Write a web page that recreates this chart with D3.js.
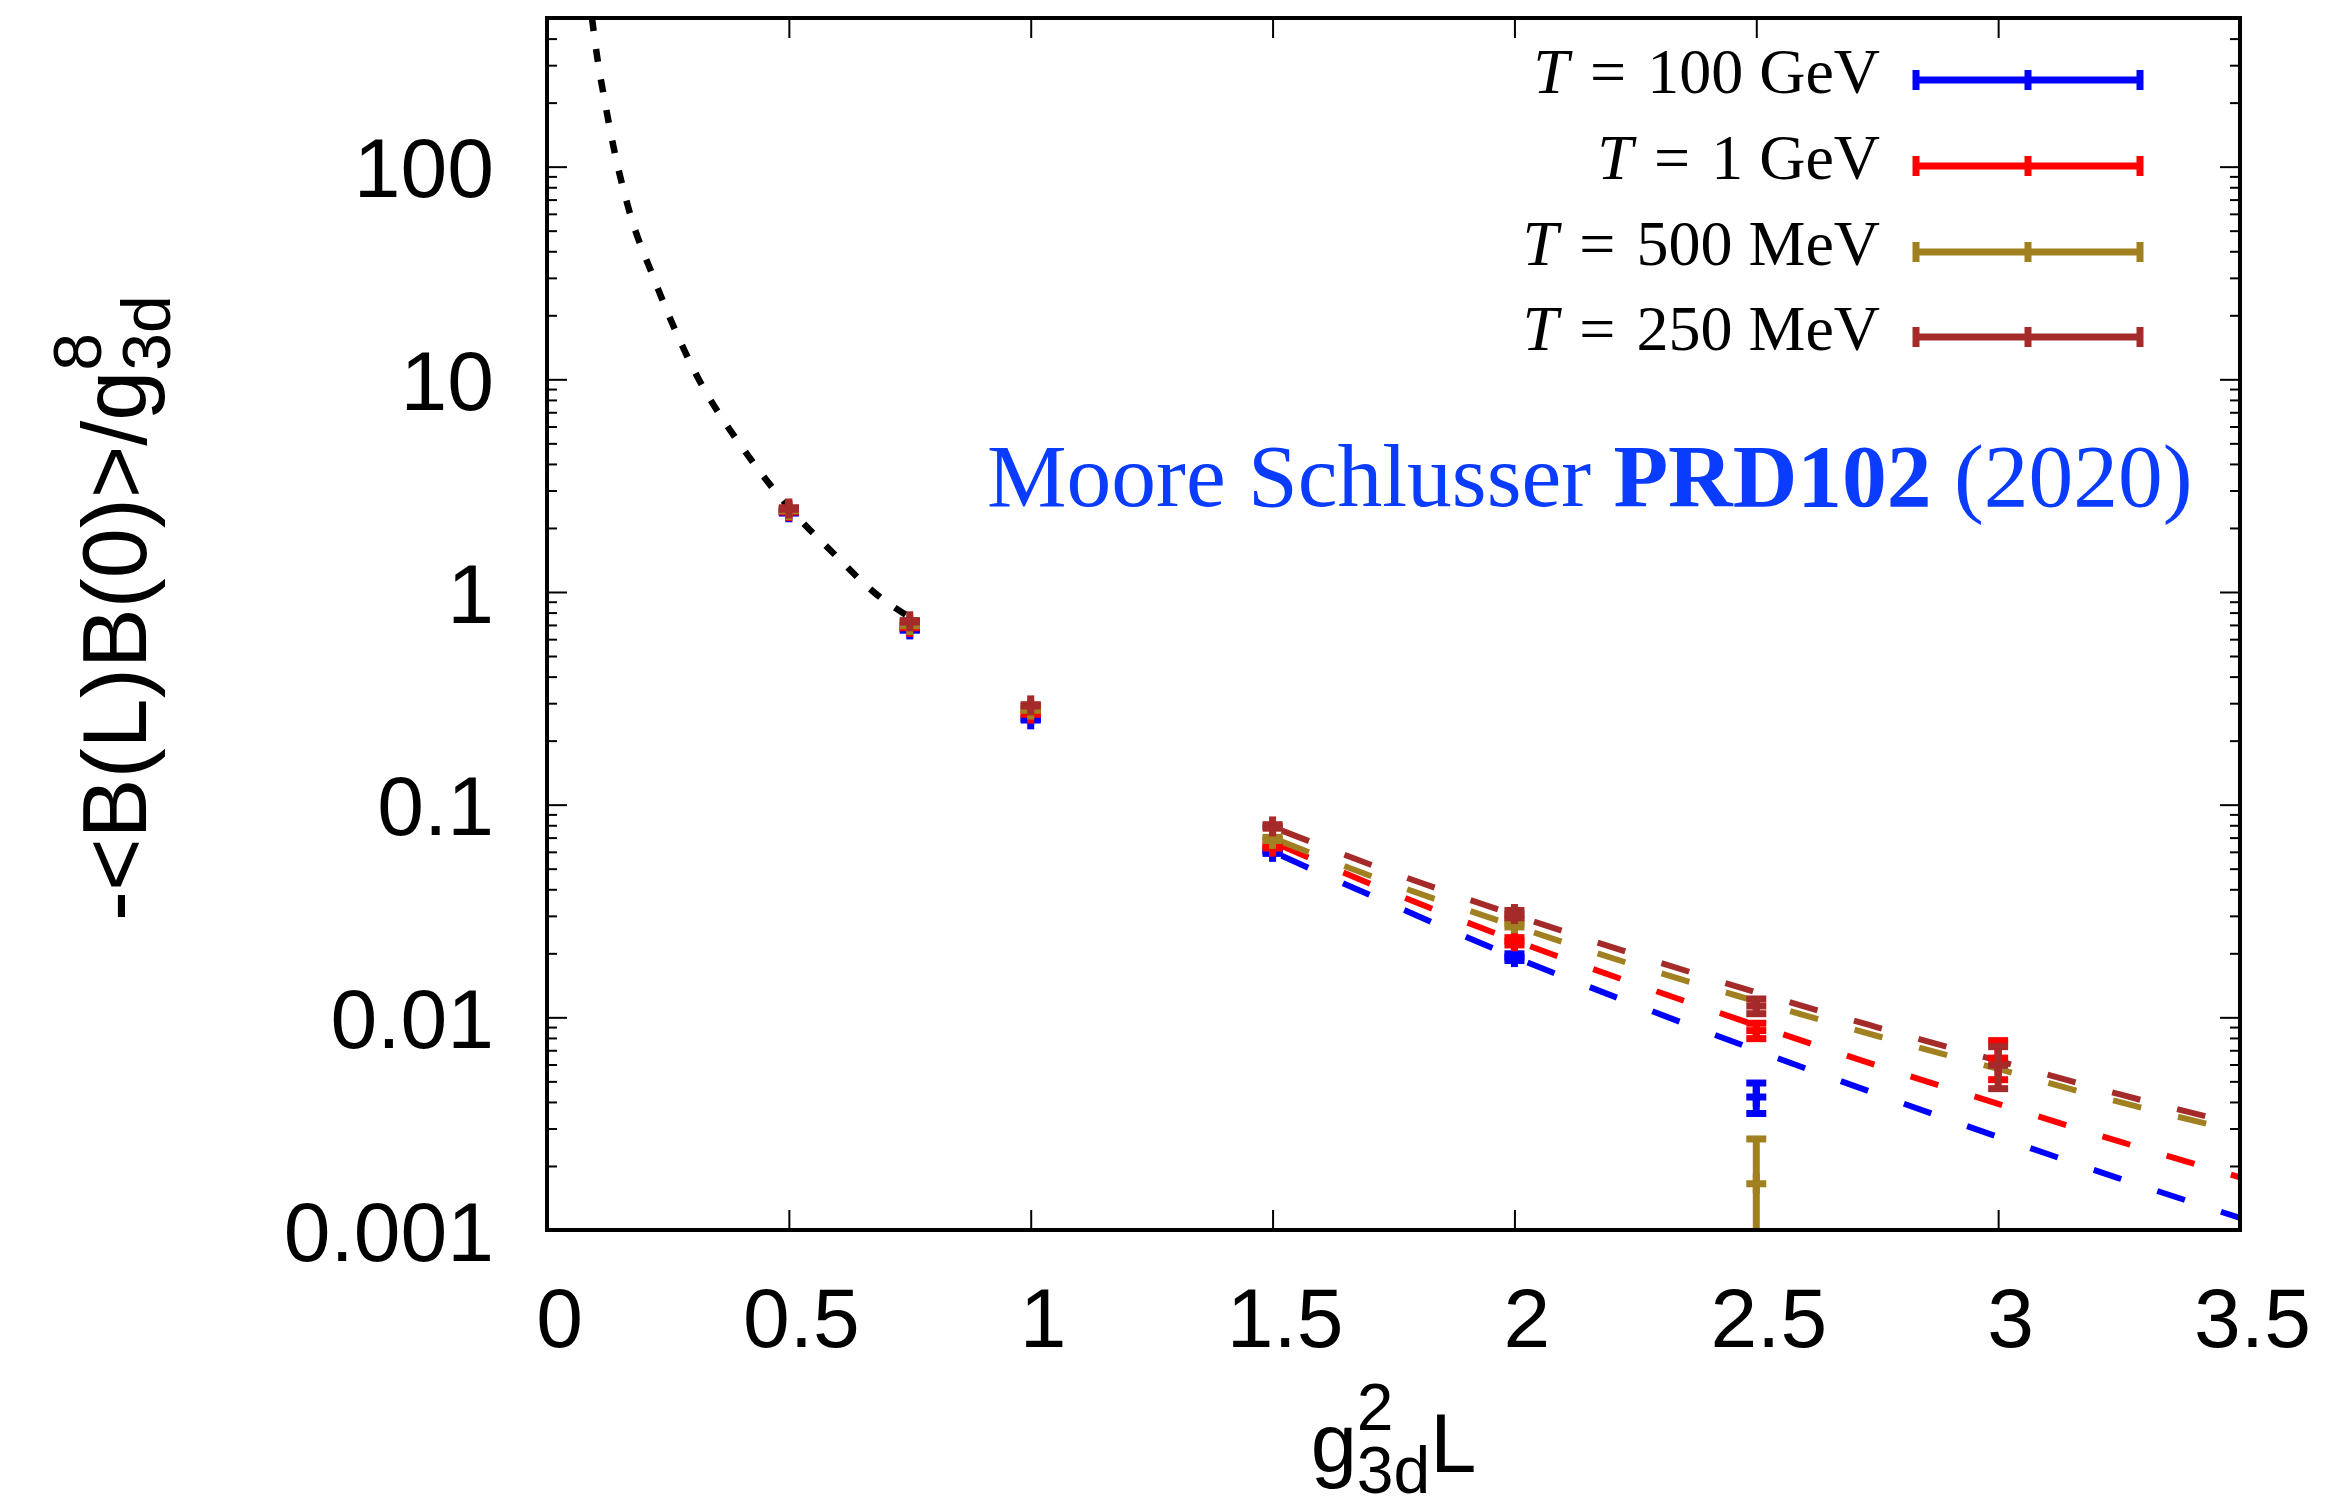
<!DOCTYPE html>
<html><head><meta charset="utf-8">
<script src="https://cdn.jsdelivr.net/npm/d3@7"></script>
<style>body{margin:0;background:#fff;overflow:hidden}</style>
</head><body>
<svg id="chart" width="2326" height="1501"></svg>
<script>
// ---------------- data ----------------
const xValues = [0.5, 0.75, 1.0, 1.5, 2.0, 2.5, 3.0];

const seriesLabels = ["100 GeV", "1 GeV", "500 MeV", "250 MeV"];
const seriesColors = ["#0000ff", "#ff0000", "#a08020", "#a52a2a"];

const blueY  = [2.37, 0.667, 0.252, 0.0600, 0.0192, 0.00422, null];
const redY   = [2.40, 0.685, 0.268, 0.0635, 0.0228, 0.00866, 0.00643];
const goldY  = [2.43, 0.700, 0.280, 0.0690, 0.0277, 0.00165, null];
const brownY = [2.47, 0.728, 0.293, 0.0790, 0.0306, 0.0113, 0.00595];

const blueErr  = [0.02, 0.006, 0.002, 0.0010, 0.0007, 0.00069, null];
const redErr   = [0.02, 0.006, 0.002, 0.0010, 0.0009, 0.00072, 0.00134];
const goldErr  = [0.02, 0.006, 0.002, 0.0012, 0.0011, 0.00103, null];
const brownErr = [0.02, 0.006, 0.002, 0.0015, 0.0012, 0.00090, 0.00133];

// fitted (dashed) curves, values read at these L
const fitX     = [1.5, 1.75, 2.0, 2.25, 2.5, 2.75, 3.0, 3.25, 3.5];
const blueFit  = [0.0601, 0.0336, 0.0192, 0.01146, 0.0070, 0.00435, 0.00274, 0.00175, 0.00114];
const redFit   = [0.0668, 0.0383, 0.0230, 0.01436, 0.00917, 0.00593, 0.00392, 0.00261, 0.00177];
const goldFit  = [0.0697, 0.0422, 0.0269, 0.01754, 0.01189, 0.00817, 0.00572, 0.0040, 0.0029];
const brownFit = [0.0785, 0.0477, 0.0303, 0.0197, 0.0131, 0.00898, 0.00624, 0.00435, 0.00313];

// black dotted perturbative curve
const pertX = [0.093, 0.1033, 0.12, 0.1405, 0.17, 0.221, 0.3, 0.415, 0.5, 0.591, 0.68, 0.75];
const pertY = [500, 333, 200, 115, 62, 29.8, 11.5, 4.4, 2.5, 1.53, 0.98, 0.76];

const xTicks = [0, 0.5, 1, 1.5, 2, 2.5, 3, 3.5];
const xTickLabels = ["0", "0.5", "1", "1.5", "2", "2.5", "3", "3.5"];
const yTicks = [0.001, 0.01, 0.1, 1, 10, 100];
const yTickLabels = ["0.001", "0.01", "0.1", "1", "10", "100"];

const annotation = ["Moore Schlusser ", "PRD102", " (2020)"];

// ---------------- setup ----------------
const M = {left: 547, right: 2240, top: 18, bottom: 1230};
const SANS = "'Liberation Sans', Arial, Helvetica, sans-serif";
const SERIF = "'Liberation Serif', 'Times New Roman', serif";
const svg = d3.select("#chart");

const x = d3.scaleLinear().domain([0, 3.5]).range([M.left, M.right]);
const y = d3.scaleLog().domain([0.001, 500]).range([M.bottom, M.top]);

svg.append("rect").attr("width", 2326).attr("height", 1501).attr("fill", "#fff");
svg.append("defs").append("clipPath").attr("id", "clip")
  .append("rect").attr("x", M.left).attr("y", M.top)
  .attr("width", M.right - M.left).attr("height", M.bottom - M.top);

const series = [
  {vals: blueY, errs: blueErr, fit: blueFit},
  {vals: redY, errs: redErr, fit: redFit},
  {vals: goldY, errs: goldErr, fit: goldFit},
  {vals: brownY, errs: brownErr, fit: brownFit}
].map((s, i) => Object.assign(s, {color: seriesColors[i], label: seriesLabels[i]}));

// ---------------- axes ----------------
const minor = [];
for (let e = -3; e <= 2; e++) for (let k = 2; k <= 9; k++) {
  const v = k * Math.pow(10, e);
  if (v <= 500) minor.push(v);
}
function styleAxis(g) {
  g.select(".domain").remove();
  g.selectAll(".tick line").attr("stroke", "#000").attr("stroke-width", 2);
}
const TICKFONT = 84;
// left major with labels
svg.append("g").attr("transform", `translate(${M.left},0)`)
  .call(d3.axisLeft(y).tickValues(yTicks).tickSize(-20).tickPadding(53)
        .tickFormat((d, i) => yTickLabels[i]))
  .call(styleAxis)
  .call(g => g.selectAll("text").attr("font-family", SANS).attr("font-size", TICKFONT)
        .attr("fill", "#000").attr("dy", "0.36em"));
svg.append("g").attr("transform", `translate(${M.left},0)`)
  .call(d3.axisLeft(y).tickValues(minor).tickSize(-10).tickFormat(""))
  .call(styleAxis);
// right mirror
svg.append("g").attr("transform", `translate(${M.right},0)`)
  .call(d3.axisRight(y).tickValues(yTicks).tickSize(-20).tickFormat(""))
  .call(styleAxis);
svg.append("g").attr("transform", `translate(${M.right},0)`)
  .call(d3.axisRight(y).tickValues(minor).tickSize(-10).tickFormat(""))
  .call(styleAxis);
// bottom with labels
svg.append("g").attr("transform", `translate(0,${M.bottom})`)
  .call(d3.axisBottom(x).tickValues(xTicks).tickSize(-20).tickPadding(57)
        .tickFormat((d, i) => xTickLabels[i]))
  .call(styleAxis)
  .call(g => g.selectAll("text").attr("font-family", SANS).attr("font-size", TICKFONT)
        .attr("fill", "#000").attr("x", 12));
// top mirror
svg.append("g").attr("transform", `translate(0,${M.top})`)
  .call(d3.axisTop(x).tickValues(xTicks).tickSize(-20).tickFormat(""))
  .call(styleAxis);

// ---------------- data layers ----------------
const plot = svg.append("g").attr("clip-path", "url(#clip)");

const lineGen = d3.line().x(d => x(d[0])).y(d => y(d[1])).curve(d3.curveMonotoneX);
plot.append("path")
  .attr("d", lineGen(pertX.map((v, i) => [v, pertY[i]])))
  .attr("fill", "none").attr("stroke", "#000").attr("stroke-width", 6.5)
  .attr("stroke-dasharray", "13,18");

series.forEach(s => {
  plot.append("path")
    .attr("d", lineGen(fitX.map((v, i) => [v, s.fit[i]])))
    .attr("fill", "none").attr("stroke", s.color).attr("stroke-width", 6)
    .attr("stroke-dasharray", "29,38").attr("stroke-dashoffset", -10);
});

const CAP = 10, PLUS = 10, LW = 7;
series.forEach(s => {
  const g = plot.append("g").attr("stroke", s.color).attr("stroke-width", LW).attr("fill", "none");
  xValues.forEach((xv, i) => {
    const v = s.vals[i];
    if (v == null) return;
    const e = s.errs[i];
    const cx = x(xv), cy = y(v);
    const yHi = y(v + e);
    const lo = v - e;
    const yLo = lo > 0 ? y(lo) : M.bottom + 100;
    g.append("line").attr("x1", cx).attr("x2", cx).attr("y1", yHi).attr("y2", yLo);
    g.append("line").attr("x1", cx - CAP).attr("x2", cx + CAP).attr("y1", yHi).attr("y2", yHi);
    g.append("line").attr("x1", cx - CAP).attr("x2", cx + CAP).attr("y1", yLo).attr("y2", yLo);
    g.append("line").attr("x1", cx - PLUS).attr("x2", cx + PLUS).attr("y1", cy).attr("y2", cy);
    g.append("line").attr("x1", cx).attr("x2", cx).attr("y1", cy - PLUS).attr("y2", cy + PLUS);
  });
});

// border
svg.append("rect").attr("x", M.left).attr("y", M.top)
  .attr("width", M.right - M.left).attr("height", M.bottom - M.top)
  .attr("fill", "none").attr("stroke", "#000").attr("stroke-width", 4);

// ---------------- legend ----------------
const legRowY = [80, 166, 252, 337];
const legText = 1880, legX1 = 1913, legX2 = 2143;
series.forEach((s, i) => {
  const ry = legRowY[i];
  const t = svg.append("text").attr("x", legText).attr("y", ry + 13)
    .attr("text-anchor", "end").attr("font-family", SERIF).attr("font-size", 64).attr("fill", "#000");
  t.append("tspan").attr("font-style", "italic").text("T");
  t.append("tspan").attr("dx", "0.33em").text("=");
  t.append("tspan").attr("dx", "0.33em").text(s.label);
  const g = svg.append("g").attr("stroke", s.color).attr("stroke-width", LW);
  g.append("line").attr("x1", legX1).attr("x2", legX2).attr("y1", ry).attr("y2", ry);
  [legX1 + 3, (legX1 + legX2) / 2, legX2 - 3].forEach(px =>
    g.append("line").attr("x1", px).attr("x2", px).attr("y1", ry - CAP).attr("y2", ry + CAP));
});

// annotation
const ann = svg.append("text").attr("x", 987).attr("y", 506)
  .attr("font-family", SERIF).attr("font-size", 89.5).attr("fill", "#0a3cff");
ann.append("tspan").text(annotation[0]);
ann.append("tspan").attr("font-weight", "bold").text(annotation[1]);
ann.append("tspan").text(annotation[2]);

// ---------------- axis titles ----------------
function mathTitle(g, main1, sup, sub, main2, size, subSize, supRaise, subDrop) {
  const t1 = g.append("text").attr("font-family", SANS).attr("font-size", size).attr("fill", "#000").text(main1);
  const w1 = t1.node().getComputedTextLength();
  const ts = g.append("text").attr("font-family", SANS).attr("font-size", subSize).attr("fill", "#000").text(sup);
  const tb = g.append("text").attr("font-family", SANS).attr("font-size", subSize).attr("fill", "#000").text(sub);
  const w2 = Math.max(ts.node().getComputedTextLength(), tb.node().getComputedTextLength());
  let t3 = null, w3 = 0;
  if (main2) {
    t3 = g.append("text").attr("font-family", SANS).attr("font-size", size).attr("fill", "#000").text(main2);
    w3 = t3.node().getComputedTextLength();
  }
  const total = w1 + w2 + w3;
  const x0 = -total / 2;
  t1.attr("x", x0).attr("y", 0);
  ts.attr("x", x0 + w1).attr("y", -supRaise);
  tb.attr("x", x0 + w1).attr("y", subDrop);
  if (t3) t3.attr("x", x0 + w1 + w2).attr("y", 0);
}
const xt = svg.append("g").attr("transform", `translate(${(M.left + M.right) / 2},1472)`);
mathTitle(xt, "g", "2", "3d", "L", 83, 66, 42, 21);

const yt = svg.append("g").attr("transform", `translate(146,608) rotate(-90)`);
mathTitle(yt, "-<B(L)B(0)>/g", "8", "3d", null, 90, 68, 45, 24);
</script>
</body></html>
